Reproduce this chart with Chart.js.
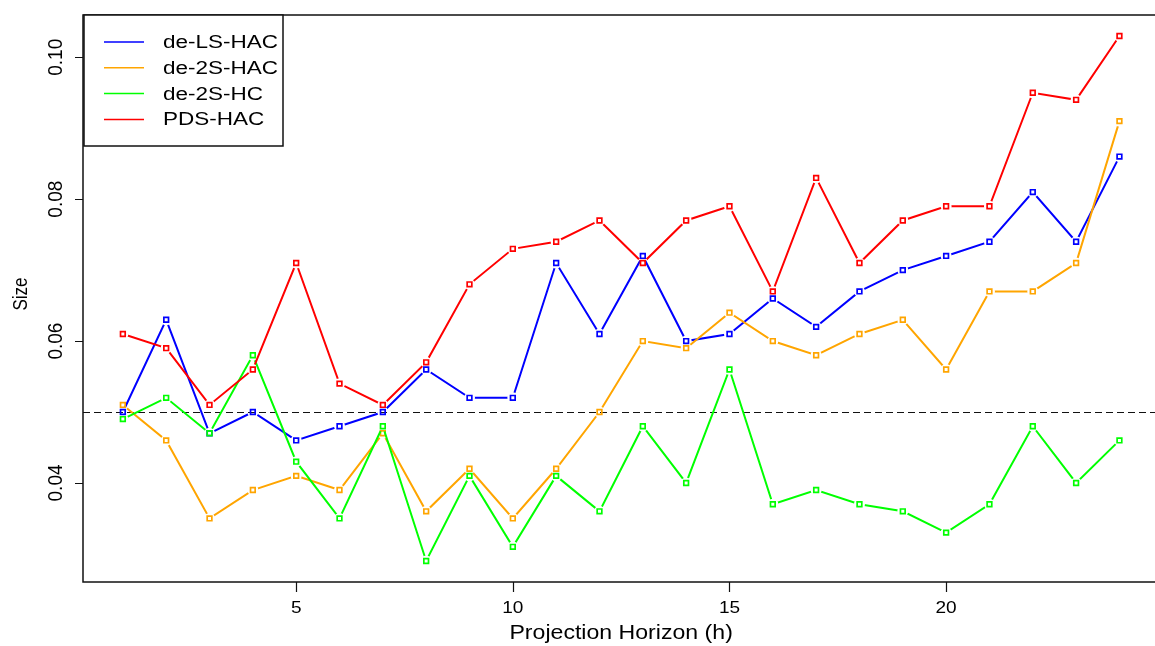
<!DOCTYPE html>
<html>
<head>
<meta charset="utf-8">
<title>Size by projection horizon</title>
<script src="https://cdn.jsdelivr.net/npm/chart.js@4/dist/chart.umd.min.js"></script>
<style>
  html, body { margin: 0; padding: 0; background: #fff; overflow: hidden; }
  canvas { display: block; }
</style>
</head>
<body>
<canvas id="myChart" width="1165" height="646"></canvas>
<script>
// data
var horizons = [1,2,3,4,5,6,7,8,9,10,11,12,13,14,15,16,17,18,19,20,21,22,23,24];
var deLSHAC = [0.050,0.063,0.047,0.050,0.046,0.048,0.050,0.056,0.052,0.052,0.071,0.061,0.072,0.060,0.061,0.066,0.062,0.067,0.070,0.072,0.074,0.081,0.074,0.086];
var de2SHAC = [0.051,0.046,0.035,0.039,0.041,0.039,0.047,0.036,0.042,0.035,0.042,0.050,0.060,0.059,0.064,0.060,0.058,0.061,0.063,0.056,0.067,0.067,0.071,0.091];
var de2SHC  = [0.049,0.052,0.047,0.058,0.043,0.035,0.048,0.029,0.041,0.031,0.041,0.036,0.048,0.040,0.056,0.037,0.039,0.037,0.036,0.033,0.037,0.048,0.040,0.046];
var pdsHAC  = [0.061,0.059,0.051,0.056,0.071,0.054,0.051,0.057,0.068,0.073,0.074,0.077,0.071,0.077,0.079,0.067,0.083,0.071,0.077,0.079,0.079,0.095,0.094,0.103];
var seriesNames = ['de-LS-HAC', 'de-2S-HAC', 'de-2S-HC', 'PDS-HAC'];
var seriesColors = ['#0000ff', '#ffa500', '#00ff00', '#ff0000'];
var xTicks = [5, 10, 15, 20];
var yTicks = [0.04, 0.06, 0.08, 0.10];
var yTickLabels = ['0.04', '0.06', '0.08', '0.10'];
var refLevel = 0.05;

function toPoints(vals) {
  var pts = [];
  for (var i = 0; i < horizons.length; i++) {
    pts.push({x: horizons[i], y: vals[i]});
  }
  return pts;
}

// each series = a line dataset (with gaps cut at the points, like R type="b")
// plus a points-only dataset on top of it
var allSeries = [deLSHAC, de2SHAC, de2SHC, pdsHAC];
var datasets = [];
for (var s = 0; s < allSeries.length; s++) {
  var n = allSeries.length - s;
  datasets.push({
    label: seriesNames[s],
    data: toPoints(allSeries[s]),
    borderColor: seriesColors[s],
    borderWidth: 2,
    pointRadius: 0,
    tension: 0,
    fill: false,
    isGapLine: true,
    order: 2 * n
  });
  datasets.push({
    label: seriesNames[s] + ' pts',
    data: toPoints(allSeries[s]),
    showLine: false,
    borderColor: seriesColors[s],
    pointStyle: 'rect',
    pointRadius: 3.3,
    pointBorderWidth: 1.7,
    pointBackgroundColor: 'rgba(255,255,255,0)',
    pointBorderColor: seriesColors[s],
    order: 2 * n - 1
  });
}

// text helper, the figure is a bit wider than tall so text is stretched
function stretchText(ctx, txt, x, y, px, sx, sy, align, base, rot) {
  ctx.save();
  ctx.translate(x, y);
  if (rot) ctx.rotate(rot);
  ctx.scale(sx, sy);
  ctx.font = px + 'px "Liberation Sans", Arial, sans-serif';
  ctx.textAlign = align;
  ctx.textBaseline = base;
  ctx.fillStyle = '#000';
  ctx.fillText(txt, 0, 0);
  ctx.restore();
}

var gapRadius = 5.5;

var rPlot = {
  id: 'rPlot',
  beforeDraw: function(chart) {
    var ctx = chart.ctx;
    ctx.save();
    ctx.fillStyle = '#fff';
    ctx.fillRect(0, 0, chart.width, chart.height);
    ctx.restore();
  },
  beforeDatasetsDraw: function(chart) {
    // dashed reference line at nominal size
    var ctx = chart.ctx, a = chart.chartArea;
    var yy = Math.round(chart.scales.y.getPixelForValue(refLevel)) + 0.5;
    ctx.save();
    ctx.strokeStyle = '#111';
    ctx.lineWidth = 1.2;
    ctx.setLineDash([7, 4]);
    ctx.beginPath();
    ctx.moveTo(a.left, yy);
    ctx.lineTo(a.right, yy);
    ctx.stroke();
    ctx.restore();
  },
  beforeDatasetDraw: function(chart, args) {
    var ds = chart.data.datasets[args.index];
    if (!ds.isGapLine) return;
    var ctx = chart.ctx;
    ctx.save();
    ctx.beginPath();
    ctx.rect(0, 0, chart.width, chart.height);
    var els = args.meta.data;
    for (var i = 0; i < els.length; i++) {
      ctx.moveTo(els[i].x + gapRadius, els[i].y);
      ctx.arc(els[i].x, els[i].y, gapRadius, 0, Math.PI * 2, true);
    }
    ctx.clip('evenodd');
  },
  afterDatasetDraw: function(chart, args) {
    var ds = chart.data.datasets[args.index];
    if (ds.isGapLine) chart.ctx.restore();
  },
  afterDraw: function(chart) {
    var ctx = chart.ctx, a = chart.chartArea;
    var xs = chart.scales.x, ys = chart.scales.y;
    ctx.save();
    // box
    ctx.strokeStyle = '#111';
    ctx.lineWidth = 1.5;
    ctx.strokeRect(a.left, a.top, a.right - a.left, a.bottom - a.top);
    // x ticks
    ctx.beginPath();
    for (var i = 0; i < xTicks.length; i++) {
      var px = Math.round(xs.getPixelForValue(xTicks[i])) + 0.5;
      ctx.moveTo(px, a.bottom);
      ctx.lineTo(px, a.bottom + 10);
    }
    // y ticks
    for (var j = 0; j < yTicks.length; j++) {
      var py = Math.round(ys.getPixelForValue(yTicks[j])) + 0.5;
      ctx.moveTo(a.left, py);
      ctx.lineTo(a.left - 8, py);
    }
    ctx.lineWidth = 1.2;
    ctx.stroke();
    ctx.restore();

    for (var i = 0; i < xTicks.length; i++) {
      stretchText(ctx, String(xTicks[i]), xs.getPixelForValue(xTicks[i]), 613, 17, 1.12, 1, 'center', 'alphabetic');
    }
    for (var j = 0; j < yTicks.length; j++) {
      stretchText(ctx, yTickLabels[j], 62, ys.getPixelForValue(yTicks[j]), 19, 1, 1.05, 'center', 'alphabetic', -Math.PI / 2);
    }
    stretchText(ctx, 'Projection Horizon (h)', (a.left + a.right) / 2, 639, 21, 1.1, 1, 'center', 'alphabetic');
    stretchText(ctx, 'Size', 27, 294, 17, 1, 1.2, 'center', 'alphabetic', -Math.PI / 2);

    // legend box in the top left corner
    ctx.save();
    ctx.fillStyle = '#fff';
    ctx.fillRect(84, 15, 199, 131);
    ctx.strokeStyle = '#111';
    ctx.lineWidth = 1.5;
    ctx.strokeRect(84, 15, 199, 131);
    for (var k = 0; k < seriesNames.length; k++) {
      var ly = 42 + k * 25.8;
      ctx.strokeStyle = seriesColors[k];
      ctx.lineWidth = 1.5;
      ctx.beginPath();
      ctx.moveTo(104, ly);
      ctx.lineTo(144, ly);
      ctx.stroke();
      stretchText(ctx, seriesNames[k], 163, ly + 1, 18, 1.25, 1, 'left', 'middle');
    }
    ctx.restore();
  }
};

var ctx = document.getElementById('myChart').getContext('2d');
var chart = new Chart(ctx, {
  type: 'line',
  data: { datasets: datasets },
  options: {
    responsive: false,
    animation: false,
    devicePixelRatio: 1,
    layout: { padding: { left: 83, top: 15, right: 2, bottom: 64 } },
    plugins: { legend: { display: false }, tooltip: { enabled: false } },
    scales: {
      x: { type: 'linear', display: false, min: 0.08, max: 24.92 },
      y: { type: 'linear', display: false, min: 0.02604, max: 0.10596 }
    }
  },
  plugins: [rPlot]
});
</script>
</body>
</html>
